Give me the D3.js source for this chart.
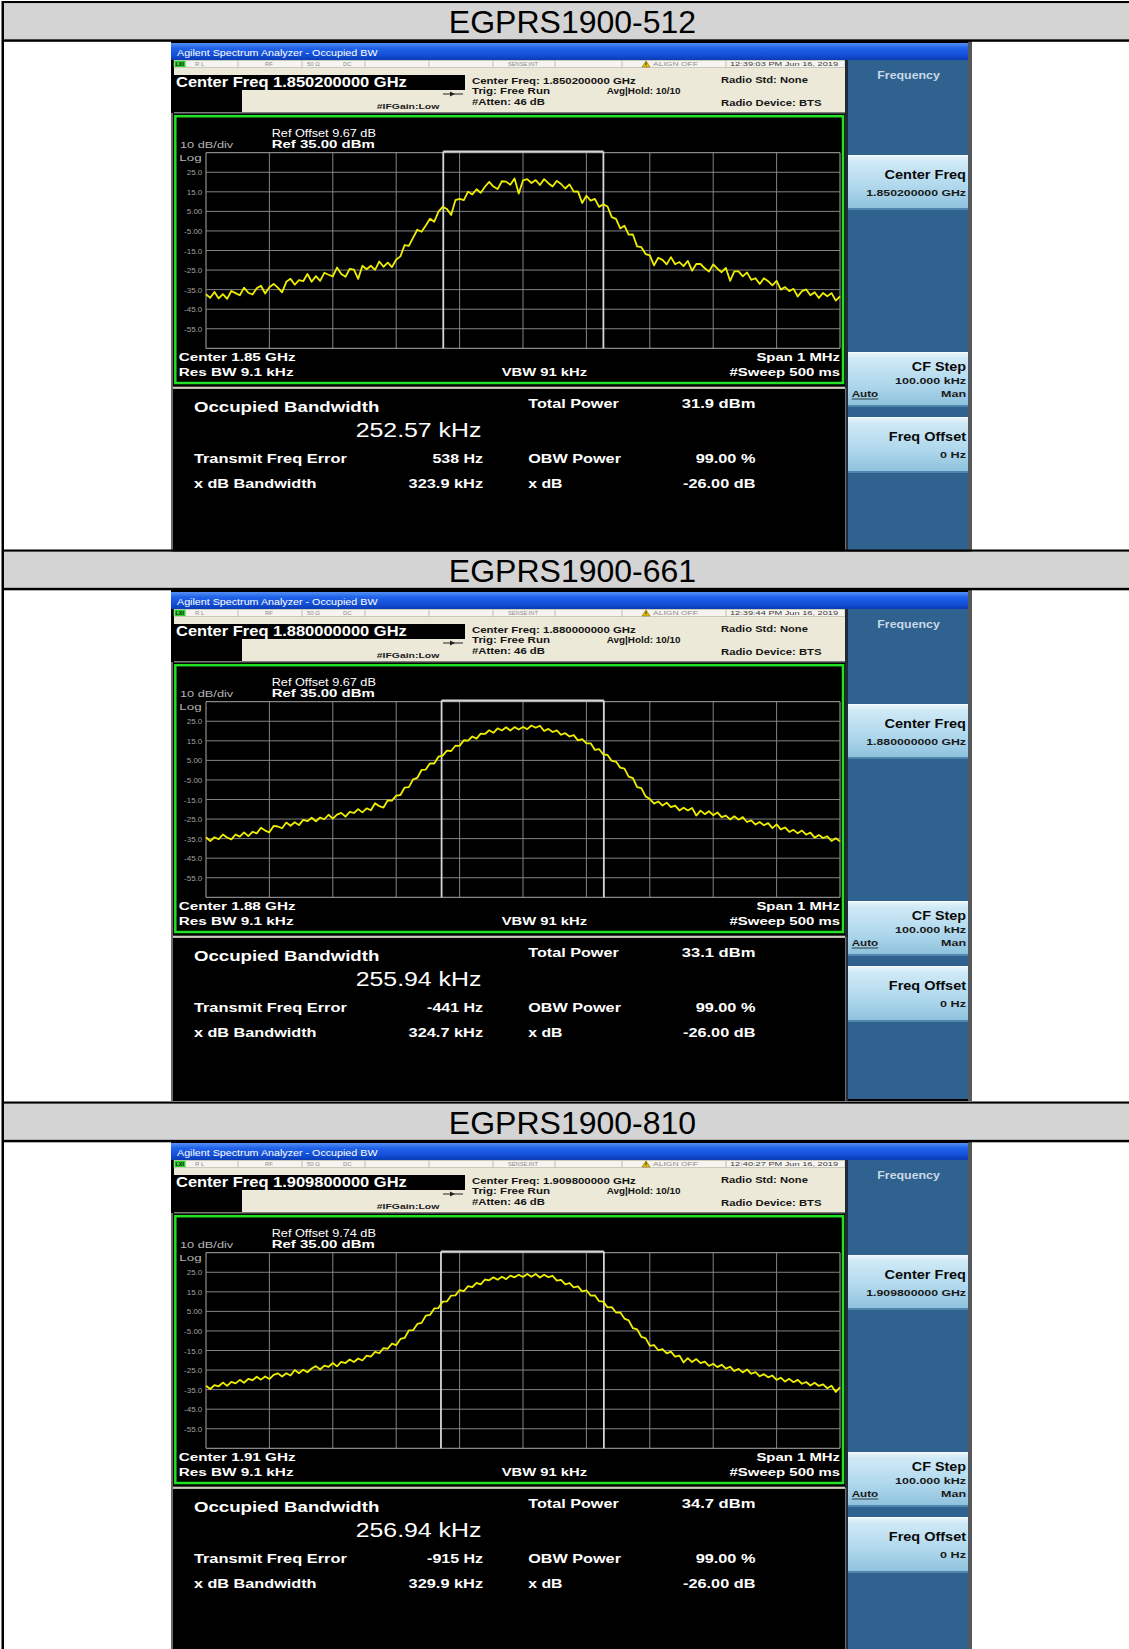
<!DOCTYPE html>
<html>
<head>
<meta charset="utf-8">
<script src="https://cdn.jsdelivr.net/npm/d3@7"></script>
<style>
  html, body { margin: 0; padding: 0; background: #fff; }
  svg { display: block; }
</style>
</head>
<body>
<script>
// ---- Measurement data: three EGPRS1900 occupied-bandwidth captures ----
const panelTitles = ["EGPRS1900-512", "EGPRS1900-661", "EGPRS1900-810"];
const centerFreqGHz = ["1.850200000", "1.880000000", "1.909800000"];
const centerShortGHz = ["1.85", "1.88", "1.91"];
const refOffsetDb = ["9.67", "9.67", "9.74"];
const timestamps = ["12:39:03 PM Jun 16, 2019", "12:39:44 PM Jun 16, 2019", "12:40:27 PM Jun 16, 2019"];
const occupiedBwKHz = [252.57, 255.94, 256.94];
const totalPowerDbm = [31.9, 33.1, 34.7];
const freqErrorHz = [538, -441, -915];
const xdbBandwidthKHz = [323.9, 324.7, 329.9];
const obwPowerPct = [99.0, 99.0, 99.0];
const xdbSetting = [-26.0, -26.0, -26.0];

// y-axis: reference level 35 dBm, 10 dB/div
const yTickValues = [25, 15, 5, -5, -15, -25, -35, -45, -55];
const yTickLabels = ["25.0", "15.0", "5.00", "-5.00", "-15.0", "-25.0", "-35.0", "-45.0", "-55.0"];

// Sweep traces (dBm), evenly spaced across the 1 MHz span
const trace512 = [
  -37.4,-39.2,-36.2,-39.5,-37.3,-39.7,-35.7,-36.8,-37.9,-34.0,
  -36.6,-37.5,-34.3,-33.0,-37.0,-33.8,-32.1,-34.0,-36.4,-31.0,
  -29.5,-32.5,-30.1,-30.7,-27.0,-31.0,-28.1,-30.5,-26.4,-27.4,
  -28.2,-23.7,-27.0,-28.4,-24.4,-24.8,-29.5,-22.8,-24.6,-22.8,
  -24.9,-20.6,-23.3,-21.2,-23.5,-19.6,-18.0,-12.2,-12.6,-8.4,
  -4.4,-5.4,-2.2,1.2,-0.3,4.9,7.3,6.2,3.1,10.7,
  11.4,10.8,15.1,13.6,16.3,14.5,17.6,20.1,17.7,16.4,
  20.4,20.2,18.6,21.8,14.1,20.9,21.5,19.5,21.0,18.5,
  21.5,19.4,17.7,20.6,19.0,16.7,18.8,15.1,15.2,9.3,
  13.0,10.5,11.4,7.3,8.6,7.5,2.1,1.2,-3.7,-2.3,
  -6.9,-6.8,-12.9,-13.3,-16.8,-17.5,-22.6,-18.7,-19.8,-22.1,
  -18.4,-22.0,-20.9,-23.0,-20.3,-25.3,-21.9,-21.9,-24.1,-25.8,
  -22.1,-24.3,-26.1,-23.9,-30.5,-25.7,-25.7,-28.2,-26.2,-30.0,
  -29.2,-32.1,-29.2,-30.7,-32.8,-30.5,-35.0,-33.7,-35.8,-34.6,
  -38.5,-35.8,-34.9,-37.9,-36.3,-39.3,-36.7,-38.4,-36.8,-40.6,
  -38.4
];
const trace661 = [
  -34.3,-36.2,-34.3,-35.3,-32.9,-34.4,-35.4,-32.9,-34.0,-31.8,
  -33.7,-31.5,-32.3,-29.4,-30.9,-31.8,-28.5,-28.8,-29.7,-26.8,
  -28.4,-26.6,-28.1,-25.4,-26.1,-24.3,-26.1,-24.2,-25.1,-22.8,
  -24.8,-22.7,-21.8,-23.8,-21.3,-21.9,-19.9,-21.6,-19.5,-20.5,
  -16.9,-18.4,-19.1,-15.4,-15.6,-13.0,-12.7,-8.9,-8.7,-4.7,
  -3.9,0.1,0.3,3.5,3.4,6.9,7.4,10.0,9.8,12.5,
  12.4,15.3,15.1,17.2,16.1,18.7,18.5,20.4,19.1,21.4,
  20.3,21.9,20.3,22.0,20.8,22.1,21.0,22.8,21.7,22.7,
  20.0,21.1,19.5,20.3,18.1,18.9,17.2,17.9,15.2,15.9,
  13.7,13.7,10.4,10.8,8.0,7.8,4.7,4.4,1.3,0.8,
  -3.3,-4.1,-8.7,-9.2,-13.4,-14.7,-17.1,-16.0,-18.1,-16.6,
  -18.9,-18.1,-20.6,-19.2,-20.6,-19.3,-23.2,-20.7,-22.5,-21.0,
  -23.0,-21.6,-24.0,-23.2,-25.2,-23.6,-25.3,-24.0,-26.5,-25.7,
  -27.8,-26.5,-28.2,-27.1,-29.6,-27.7,-30.3,-29.3,-31.6,-30.5,
  -32.3,-30.9,-33.0,-31.9,-34.5,-33.1,-34.7,-33.8,-36.2,-34.8,
  -36.4
];
const trace810 = [
  -33.0,-34.7,-32.7,-33.3,-31.4,-33.1,-31.0,-31.8,-30.0,-31.5,
  -29.5,-30.2,-28.4,-29.9,-28.3,-29.6,-27.5,-26.7,-28.3,-26.6,
  -27.8,-25.0,-26.6,-24.8,-26.1,-24.2,-23.0,-24.7,-22.7,-23.4,
  -21.4,-23.1,-20.8,-21.4,-19.6,-20.9,-19.1,-20.1,-17.6,-18.1,
  -15.7,-16.4,-13.8,-14.1,-11.5,-12.3,-9.1,-8.6,-4.7,-4.6,
  -1.4,-0.9,2.8,3.2,6.5,6.7,10.0,10.1,13.1,13.2,
  15.9,15.3,17.9,17.4,19.6,18.8,21.3,20.9,22.4,21.2,
  22.7,21.5,23.3,22.4,23.7,22.6,24.1,22.7,24.1,22.3,
  23.7,22.5,23.2,20.7,21.1,18.8,19.5,17.3,17.8,15.2,
  15.8,13.1,13.2,10.2,10.0,7.0,7.2,4.4,4.5,1.3,
  0.4,-3.6,-4.2,-8.0,-8.7,-12.6,-12.2,-14.9,-14.3,-16.5,
  -15.6,-18.1,-17.6,-21.1,-18.9,-20.9,-19.4,-21.5,-20.7,-22.9,
  -21.8,-23.5,-22.3,-24.3,-23.3,-25.5,-24.4,-26.2,-24.7,-26.9,
  -26.1,-28.2,-27.1,-28.7,-27.8,-30.0,-28.9,-30.9,-29.5,-31.2,
  -30.0,-32.0,-31.1,-32.9,-31.5,-33.1,-32.3,-34.3,-33.0,-36.2,
  -33.9
];
const traces = [trace512, trace661, trace810];

// ---- Page layout ----
const W = 1129, H = 1649;
const FONT = "'Liberation Sans', Arial, Helvetica, sans-serif";
const headerY = [1, 549.5, 1101.5];
const panelTop = [41, 590, 1141];
const panelLeft = 171;

const svg = d3.select("body").append("svg").attr("width", W).attr("height", H);
const defs = svg.append("defs");

function vGradient(id, stops) {
  const lg = defs.append("linearGradient").attr("id", id)
    .attr("x1", 0).attr("y1", 0).attr("x2", 0).attr("y2", 1);
  stops.forEach(([o, c]) => lg.append("stop").attr("offset", o).attr("stop-color", c));
}
vGradient("titleBar", [[0, "#5590f4"], [0.3, "#2063ea"], [0.7, "#1450d8"], [1, "#0a3cb4"]]);
vGradient("softKey", [[0, "#eaf6fc"], [0.12, "#cfe9f6"], [0.6, "#aed7ec"], [1, "#8cc0dc"]]);

// Text helper: the analyzer's screen font is wide, so each label is stretched
// horizontally to a target width measured on a reference string.
function naturalWidth(str, size, weight) {
  const t = svg.append("text").attr("font-family", FONT).attr("font-size", size)
    .attr("font-weight", weight).attr("visibility", "hidden").text(str);
  const w = t.node().getComputedTextLength();
  t.remove();
  return w;
}
function label(g, o, str) {
  const weight = o.weight || "normal";
  let sx = 1;
  if (o.w) sx = o.w / naturalWidth(o.ref || str, o.size, weight);
  return g.append("text")
    .attr("transform", `translate(${o.x},${o.y}) scale(${sx.toFixed(4)},1)`)
    .attr("text-anchor", o.anchor || "start")
    .attr("font-family", FONT)
    .attr("font-size", o.size)
    .attr("font-weight", weight)
    .attr("fill", o.fill || "#fff")
    .text(str);
}

const fmtObw = v => `${v.toFixed(2)} kHz`;
const fmtPow = v => `${v.toFixed(1)} dBm`;
const fmtErr = v => `${v} Hz`;
const fmtXdbBw = v => `${v.toFixed(1)} kHz`;
const fmtPct = v => `${v.toFixed(2)} %`;
const fmtDb = v => `${v.toFixed(2)} dB`;

// ---- One analyzer screen ----
function drawPanel(k) {
  const g = svg.append("g").attr("transform", `translate(${panelLeft},${panelTop[k]})`);

  // frame
  g.append("rect").attr("width", 801).attr("height", 511).attr("fill", "#000");
  g.append("rect").attr("x", 797).attr("y", 0).attr("width", 4).attr("height", 511).attr("fill", "#55585c");
  g.append("rect").attr("x", 0).attr("y", 72).attr("width", 2).attr("height", 439).attr("fill", "#6a6a6a");

  // title bar
  g.append("rect").attr("x", 0).attr("y", 2).attr("width", 797).attr("height", 17).attr("fill", "url(#titleBar)");
  label(g, { x: 6, y: 14.5, size: 8.5, w: 201 }, "Agilent Spectrum Analyzer - Occupied BW");

  // settings area
  g.append("rect").attr("x", 3).attr("y", 19).attr("width", 671).attr("height", 52).attr("fill", "#ece9d8");
  g.append("rect").attr("x", 3).attr("y", 71).attr("width", 671).attr("height", 1.5).attr("fill", "#7c7c7c");

  // status row
  g.append("rect").attr("x", 3).attr("y", 19.5).attr("width", 671).attr("height", 6.8)
    .attr("fill", "#f5f4ef").attr("stroke", "#b2afa3").attr("stroke-width", 0.6);
  [67, 131, 194, 258, 322, 384, 451, 555].forEach(sx => {
    g.append("line").attr("x1", sx).attr("x2", sx).attr("y1", 19.5).attr("y2", 26.3)
      .attr("stroke", "#b2afa3").attr("stroke-width", 0.8);
  });
  g.append("rect").attr("x", 3.5).attr("y", 19.8).attr("width", 11).attr("height", 6.2).attr("fill", "#2bd12b");
  label(g, { x: 4.5, y: 25.2, size: 5.5, weight: "bold", fill: "#111" }, "LXI");
  const st = { y: 25.3, size: 6, fill: "#8c8c8c" };
  label(g, { ...st, x: 24 }, "R L");
  label(g, { ...st, x: 94 }, "RF");
  label(g, { ...st, x: 136 }, "50 Ω");
  label(g, { ...st, x: 172 }, "DC");
  label(g, { ...st, x: 337, w: 30 }, "SENSE:INT");
  g.append("path").attr("d", "M471,26 L475,19.8 L479,26 Z").attr("fill", "#e8c400").attr("stroke", "#6a5500").attr("stroke-width", 0.5);
  g.append("line").attr("x1", 475).attr("x2", 475).attr("y1", 21.5).attr("y2", 24.3).attr("stroke", "#000").attr("stroke-width", 0.8);
  label(g, { ...st, x: 482, w: 45 }, "ALIGN OFF");
  label(g, { x: 559, y: 25.3, size: 6.2, fill: "#3c3c3c", w: 108, ref: timestamps[0] }, timestamps[k]);

  // centre frequency readout
  g.append("rect").attr("x", 2).attr("y", 34).attr("width", 292).attr("height", 15).attr("fill", "#000");
  g.append("rect").attr("x", 3).attr("y", 49).attr("width", 68).attr("height", 22).attr("fill", "#000");
  label(g, { x: 5, y: 46.3, size: 14, weight: "bold", w: 231, ref: `Center Freq ${centerFreqGHz[0]} GHz` },
    `Center Freq ${centerFreqGHz[k]} GHz`);
  label(g, { x: 205.7, y: 68.3, size: 8, weight: "bold", fill: "#222", w: 62.7 }, "#IFGain:Low");
  // trigger arrow glyph
  g.append("line").attr("x1", 272).attr("x2", 292).attr("y1", 53).attr("y2", 53).attr("stroke", "#222").attr("stroke-width", 1);
  g.append("path").attr("d", "M279,50.5 L284,53 L279,55.5 Z").attr("fill", "#222");

  const inf = { size: 8.8, weight: "bold", fill: "#151515" };
  label(g, { ...inf, x: 301, y: 43, w: 164, ref: `Center Freq: ${centerFreqGHz[0]} GHz` }, `Center Freq: ${centerFreqGHz[k]} GHz`);
  label(g, { ...inf, x: 301, y: 53.3, w: 78 }, "Trig: Free Run");
  label(g, { ...inf, x: 301, y: 64, w: 73 }, "#Atten: 46 dB");
  label(g, { ...inf, x: 435.7, y: 53.3, w: 74 }, "Avg|Hold: 10/10");
  label(g, { ...inf, x: 550, y: 42.3, w: 87 }, "Radio Std: None");
  label(g, { ...inf, x: 550, y: 65, w: 100.7 }, "Radio Device: BTS");

  // soft-key menu
  g.append("rect").attr("x", 674).attr("y", 19).attr("width", 3).attr("height", 492).attr("fill", "#1e2a36");
  g.append("rect").attr("x", 677).attr("y", 19).attr("width", 120).attr("height", 490).attr("fill", "#30628f");
  label(g, { x: 706.3, y: 38, size: 10.5, weight: "bold", fill: "#c9d9e8", w: 62.7 }, "Frequency");
  [[114, 169], [311, 366], [376, 432]].forEach(([y0, y1]) => {
    g.append("rect").attr("x", 677).attr("y", y0).attr("width", 120).attr("height", y1 - y0).attr("fill", "url(#softKey)");
    g.append("rect").attr("x", 677).attr("y", y0).attr("width", 120).attr("height", 1.2).attr("fill", "#f4fbff");
    g.append("rect").attr("x", 677).attr("y", y1 - 2).attr("width", 120).attr("height", 2).attr("fill", "#4f86ad");
  });
  const keyT = { size: 12.5, weight: "bold", fill: "#0a0a0a", anchor: "end", x: 795 };
  const keyS = { size: 9, weight: "bold", fill: "#1a1a1a", anchor: "end", x: 795 };
  label(g, { ...keyT, y: 138.3, w: 81.7 }, "Center Freq");
  label(g, { ...keyS, y: 155, w: 100, ref: `${centerFreqGHz[0]} GHz` }, `${centerFreqGHz[k]} GHz`);
  label(g, { ...keyT, y: 329.7, w: 54.3 }, "CF Step");
  label(g, { ...keyS, y: 343, w: 71 }, "100.000 kHz");
  label(g, { size: 9, weight: "bold", fill: "#1a1a1a", x: 680.7, y: 356.3, w: 26.6 }, "Auto");
  g.append("line").attr("x1", 680.7).attr("x2", 707.3).attr("y1", 358).attr("y2", 358).attr("stroke", "#1a1a1a").attr("stroke-width", 0.8);
  label(g, { ...keyS, y: 356.3, w: 25 }, "Man");
  label(g, { ...keyT, y: 400, w: 77.3 }, "Freq Offset");
  label(g, { ...keyS, y: 417.3, w: 26 }, "0 Hz");

  // ---- trace window ----
  const gridL = 35, gridR = 669, gridT = 111.7, gridB = 307.3;
  const x = d3.scaleLinear().domain([-500, 500]).range([gridL, gridR]);   // offset from centre, kHz
  const y = d3.scaleLinear().domain([-65, 35]).range([gridB, gridT]);     // dBm

  g.append("rect").attr("x", 4.3).attr("y", 75.2).attr("width", 667.7).attr("height", 266.8)
    .attr("fill", "#000").attr("stroke", "#22e022").attr("stroke-width", 2.5);

  label(g, { x: 100.7, y: 95.7, size: 10, w: 104.3, ref: `Ref Offset ${refOffsetDb[0]} dB` }, `Ref Offset ${refOffsetDb[k]} dB`);
  label(g, { x: 100.7, y: 107.3, size: 11.5, weight: "bold", w: 103.3 }, "Ref 35.00 dBm");
  label(g, { x: 9, y: 107.3, size: 9.5, fill: "#b4b4b4", w: 53.3 }, "10 dB/div");
  label(g, { x: 8.3, y: 119.7, size: 9.5, fill: "#b4b4b4", w: 22.3 }, "Log");

  const plot = g.append("g");
  plot.selectAll("line.vgrid").data(d3.range(-500, 501, 100)).join("line").attr("class", "vgrid")
    .attr("x1", d => x(d)).attr("x2", d => x(d)).attr("y1", gridT).attr("y2", gridB)
    .attr("stroke", d => (d === -500 || d === 500) ? "#a8a8a8" : "#838383").attr("stroke-width", 1);
  plot.selectAll("line.hgrid").data(d3.range(-65, 36, 10)).join("line").attr("class", "hgrid")
    .attr("x1", gridL).attr("x2", gridR).attr("y1", d => y(d)).attr("y2", d => y(d))
    .attr("stroke", d => (d === -65 || d === 35) ? "#a8a8a8" : "#838383").attr("stroke-width", 1);

  const yAxis = d3.axisLeft(y).tickValues(yTickValues)
    .tickFormat((d, i) => yTickLabels[i]).tickSize(0).tickPadding(3.7);
  const ax = g.append("g").attr("transform", `translate(${gridL},0)`).call(yAxis);
  ax.select(".domain").remove();
  ax.selectAll("text").attr("font-family", FONT).attr("font-size", 8).attr("fill", "#a0a0a0");

  // occupied-bandwidth markers
  const errK = freqErrorHz[k] / 1000, half = occupiedBwKHz[k] / 2;
  const mx = [x(errK - half), x(errK + half)];
  plot.selectAll("line.obw").data(mx).join("line").attr("class", "obw")
    .attr("x1", d => d).attr("x2", d => d).attr("y1", gridT - 1.2).attr("y2", gridB)
    .attr("stroke", "#d6d6d6").attr("stroke-width", 1.8);
  plot.append("line").attr("x1", mx[0]).attr("x2", mx[1]).attr("y1", gridT - 1.2).attr("y2", gridT - 1.2)
    .attr("stroke", "#d6d6d6").attr("stroke-width", 1.8);

  // sweep trace
  const tr = traces[k];
  const fAt = i => -500 + i * 1000 / (tr.length - 1);
  const line = d3.line().x((d, i) => x(fAt(i))).y(d => y(d));
  plot.append("path").attr("d", line(tr)).attr("fill", "none")
    .attr("stroke", "#eeee00").attr("stroke-width", 1.8).attr("stroke-linejoin", "round");

  // sweep annotations
  const ann = { size: 10.5, weight: "bold" };
  label(g, { ...ann, x: 7.7, y: 319.7, w: 117, ref: `Center  ${centerShortGHz[0]} GHz` }, `Center  ${centerShortGHz[k]} GHz`);
  label(g, { ...ann, x: 7.7, y: 335, w: 115 }, "Res BW  9.1 kHz");
  label(g, { ...ann, x: 330.7, y: 335, w: 85.5 }, "VBW  91 kHz");
  label(g, { ...ann, x: 669, y: 319.7, anchor: "end", w: 83.7 }, "Span 1 MHz");
  label(g, { ...ann, x: 669, y: 335, anchor: "end", w: 110.6 }, "#Sweep  500 ms");

  // ---- result table ----
  g.append("rect").attr("x", 2).attr("y", 345.7).attr("width", 672).attr("height", 2.2).attr("fill", "#cfcbbd");
  g.append("rect").attr("x", 674).attr("y", 347).attr("width", 1.2).attr("height", 164).attr("fill", "#6b6b6b");

  label(g, { x: 22.9, y: 370.7, size: 15.5, weight: "bold", w: 185.6 }, "Occupied Bandwidth");
  label(g, { x: 310.4, y: 395.7, size: 21, anchor: "end", w: 125.8, ref: fmtObw(occupiedBwKHz[0]) }, fmtObw(occupiedBwKHz[k]));
  const rl = { size: 12.5, weight: "bold" };
  label(g, { ...rl, x: 22.9, y: 422.3, w: 153 }, "Transmit Freq Error");
  label(g, { ...rl, x: 312.1, y: 422.3, anchor: "end", w: 50.7, ref: fmtErr(freqErrorHz[0]) }, fmtErr(freqErrorHz[k]));
  label(g, { ...rl, x: 22.9, y: 446.7, w: 122.7 }, "x dB Bandwidth");
  label(g, { ...rl, x: 312.1, y: 446.7, anchor: "end", w: 74.6, ref: fmtXdbBw(xdbBandwidthKHz[0]) }, fmtXdbBw(xdbBandwidthKHz[k]));
  label(g, { ...rl, x: 357.2, y: 367.3, w: 90.6 }, "Total Power");
  label(g, { ...rl, x: 584.4, y: 367.3, anchor: "end", w: 73.7, ref: fmtPow(totalPowerDbm[0]) }, fmtPow(totalPowerDbm[k]));
  label(g, { ...rl, x: 357.2, y: 422.3, w: 92.8 }, "OBW Power");
  label(g, { ...rl, x: 584.4, y: 422.3, anchor: "end", w: 59.8, ref: fmtPct(obwPowerPct[0]) }, fmtPct(obwPowerPct[k]));
  label(g, { ...rl, x: 357.2, y: 446.7, w: 34.3 }, "x dB");
  label(g, { ...rl, x: 584.4, y: 446.7, anchor: "end", w: 72.4, ref: fmtDb(xdbSetting[0]) }, fmtDb(xdbSetting[k]));
}

panelTitles.forEach((_, k) => drawPanel(k));

// ---- table headers and borders ----
headerY.forEach((y0, k) => {
  svg.append("rect").attr("x", 2).attr("y", y0).attr("width", W).attr("height", 2.3).attr("fill", "#000");
  svg.append("rect").attr("x", 2).attr("y", y0 + 2.3).attr("width", W).attr("height", 36).attr("fill", "#d4d4d4");
  svg.append("rect").attr("x", 2).attr("y", y0 + 38.3).attr("width", W).attr("height", 2.5).attr("fill", "#000");
  svg.append("text").attr("x", 572.5).attr("y", y0 + 32.3).attr("text-anchor", "middle")
    .attr("font-family", FONT).attr("font-size", 32).attr("fill", "#000").text(panelTitles[k]);
});
svg.append("rect").attr("x", 1.5).attr("y", 1).attr("width", 2.5).attr("height", H).attr("fill", "#000");
</script>
</body>
</html>
